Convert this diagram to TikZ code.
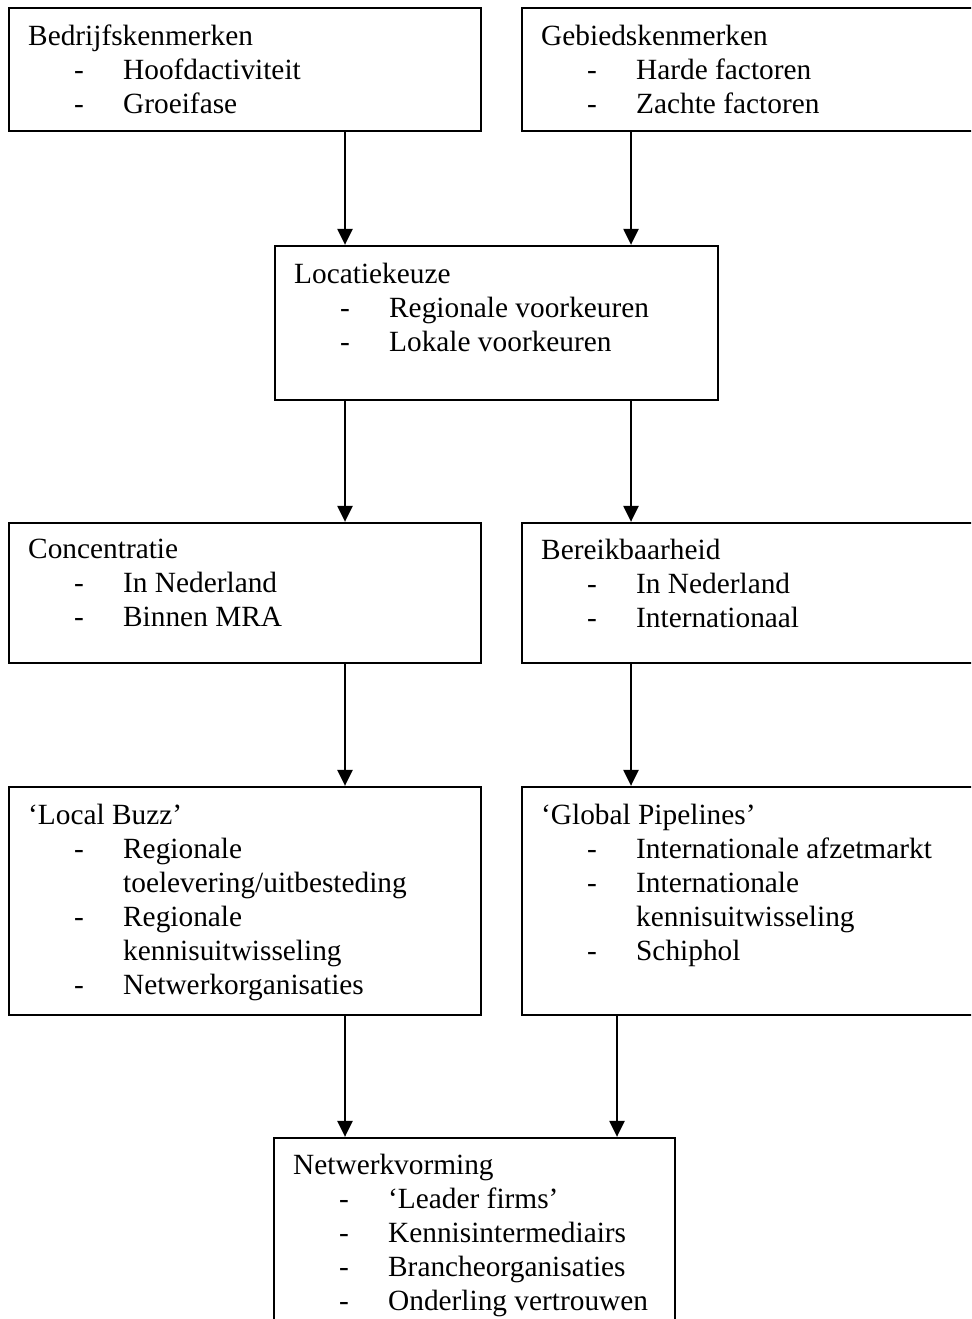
\documentclass[tikz,border=0pt]{standalone}
\usepackage{fontspec}
\setmainfont{Liberation Serif}
\usetikzlibrary{arrows.meta,fit}

% opsommingsteken en vervolgregel
\newcommand{\itm}{\makebox[1.9cm][l]{\hspace*{0.92cm}-}}
\newcommand{\itmverder}{\hspace*{1.9cm}}

\begin{document}
\begin{tikzpicture}[x=0.02cm, y=-0.02cm,
    >={Triangle[length=0.32cm,width=0.3cm]},
    kader/.style={draw, line width=1.3pt, inner sep=0pt},
    tekst/.style={anchor=north west, align=left, inner sep=0pt,
      font=\fontsize{16.7}{19.35}\selectfont},
    pijl/.style={->, line width=1.3pt}]

  \clip (0,0) rectangle (971,1319);

  % Kaders
  \node[kader, fit={(9,8) (481,131)}]     (bedrijf)      {};
  \node[kader, fit={(522,8) (985,131)}]   (gebied)       {};
  \node[kader, fit={(275,246) (718,400)}] (locatie)      {};
  \node[kader, fit={(9,523) (481,663)}]   (concentratie) {};
  \node[kader, fit={(522,523) (985,663)}] (bereik)       {};
  \node[kader, fit={(9,787) (481,1015)}]  (buzz)         {};
  \node[kader, fit={(522,787) (985,1015)}] (pipelines)   {};
  \node[kader, fit={(274,1138) (675,1340)}] (netwerk)    {};

  % Teksten
  \node[tekst] at ([shift={(20,18)}]bedrijf.north west)
    {Bedrijfskenmerken\\ \itm Hoofdactiviteit\\ \itm Groeifase};
  \node[tekst] at ([shift={(20,18)}]gebied.north west)
    {Gebiedskenmerken\\ \itm Harde factoren\\ \itm Zachte factoren};
  \node[tekst] at ([shift={(20,18)}]locatie.north west)
    {Locatiekeuze\\ \itm Regionale voorkeuren\\ \itm Lokale voorkeuren};
  \node[tekst] at ([shift={(20,17)}]concentratie.north west)
    {Concentratie\\ \itm In Nederland\\ \itm Binnen MRA};
  \node[tekst] at ([shift={(20,17)}]bereik.north west)
    {Bereikbaarheid\\ \itm In Nederland\\ \itm Internationaal};
  \node[tekst] at ([shift={(20,18)}]buzz.north west)
    {‘Local Buzz’\\ \itm Regionale\\ \itmverder toelevering/uitbesteding\\
     \itm Regionale\\ \itmverder kennisuitwisseling\\ \itm Netwerkorganisaties};
  \node[tekst] at ([shift={(20,18)}]pipelines.north west)
    {‘Global Pipelines’\\ \itm Internationale afzetmarkt\\ \itm Internationale\\
     \itmverder kennisuitwisseling\\ \itm Schiphol};
  \node[tekst] at ([shift={(20,17)}]netwerk.north west)
    {Netwerkvorming\\ \itm ‘Leader firms’\\ \itm Kennisintermediairs\\
     \itm Brancheorganisaties\\ \itm Onderling vertrouwen};

  % Pijlen
  \coordinate (links)       at (345,0);
  \coordinate (rechts)      at (631,0);
  \coordinate (rechtsonder) at (617,0);

  \draw[pijl] (bedrijf.south -| links)    -- (locatie.north -| links);
  \draw[pijl] (gebied.south -| rechts)    -- (locatie.north -| rechts);
  \draw[pijl] (locatie.south -| links)    -- (concentratie.north -| links);
  \draw[pijl] (locatie.south -| rechts)   -- (bereik.north -| rechts);
  \draw[pijl] (concentratie.south -| links) -- (buzz.north -| links);
  \draw[pijl] (bereik.south -| rechts)    -- (pipelines.north -| rechts);
  \draw[pijl] (buzz.south -| links)       -- (netwerk.north -| links);
  \draw[pijl] (pipelines.south -| rechtsonder) -- (netwerk.north -| rechtsonder);

\end{tikzpicture}
\end{document}
